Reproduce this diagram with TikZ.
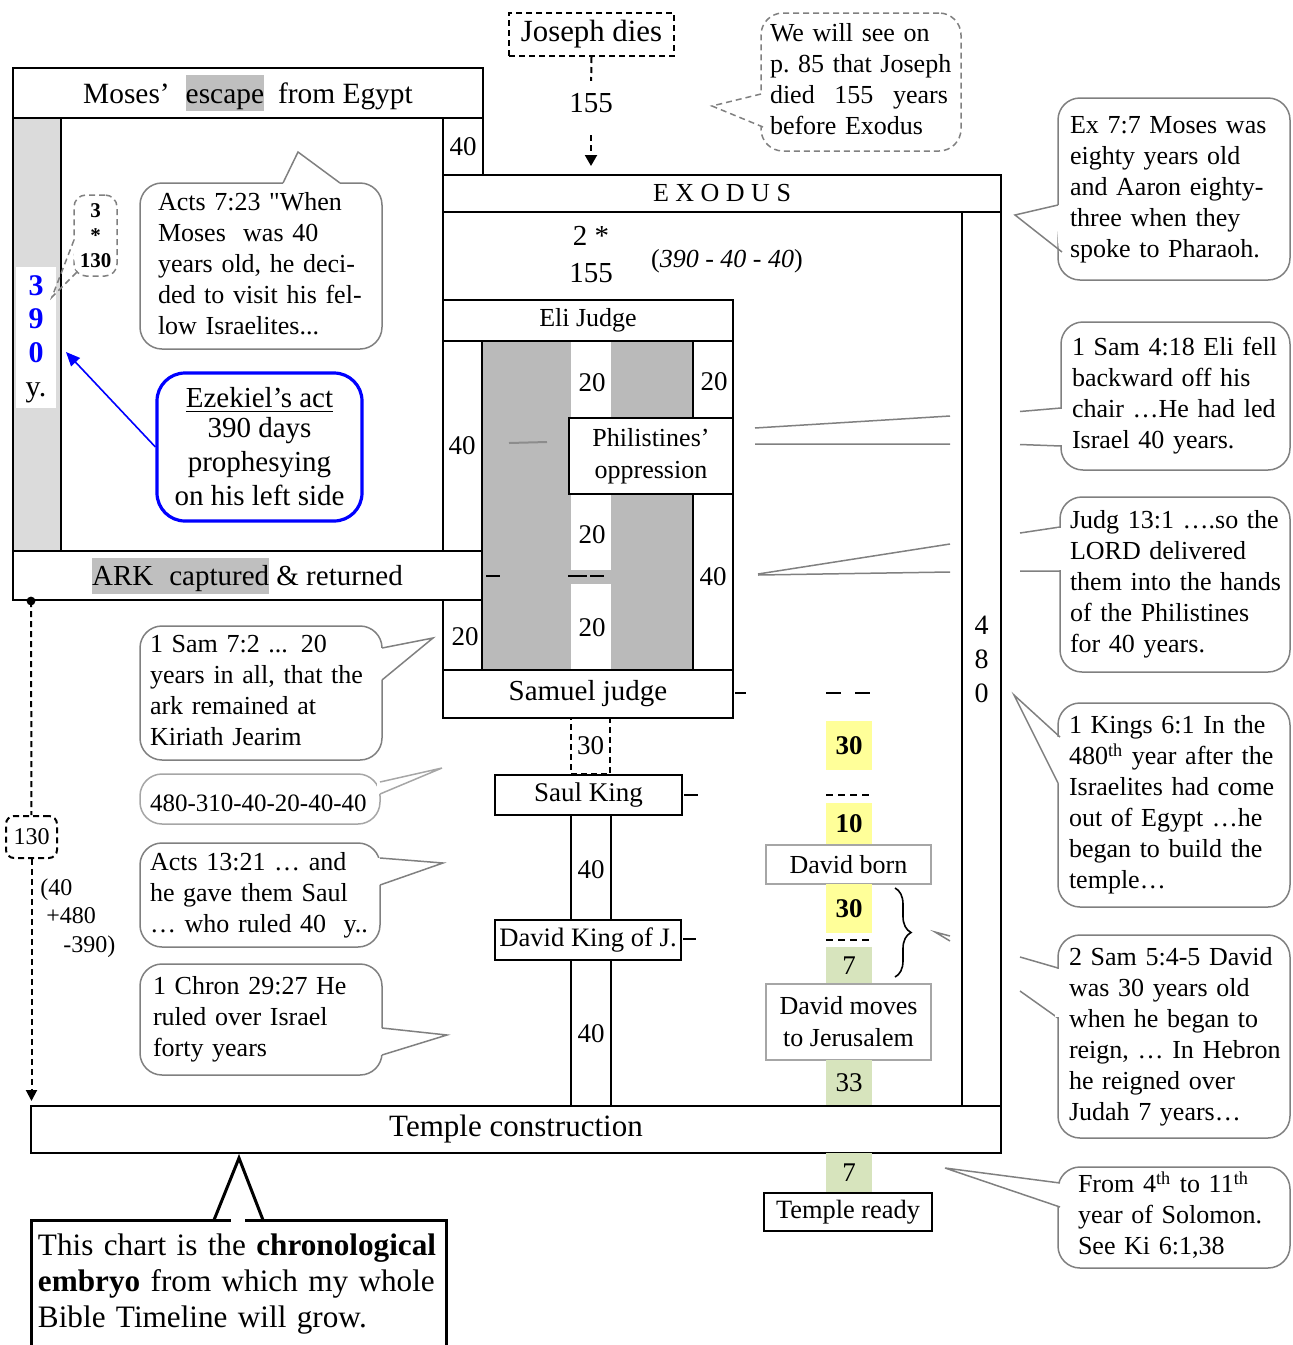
\documentclass[tikz,border=0pt]{standalone}
\usepackage{fontspec}
\setmainfont{Liberation Serif}
\usetikzlibrary{calc,arrows.meta,decorations.pathreplacing}
\definecolor{yel}{RGB}{255,255,153}
\definecolor{grn}{RGB}{215,228,189}
\newcommand\fsz[2]{\fontsize{#1}{#2}\selectfont}
\newcommand\hlt[1]{{\setlength{\fboxsep}{0pt}\colorbox{black!25}{\rule[-4pt]{0pt}{18pt}#1}}}
\newcommand\bxn[7]{%
  \pgfmathsetmacro\bxW{(#4-#2)*0.5}%
  \pgfmathsetmacro\bxH{(#5-#3)*0.5}%
  \node[inner sep=0pt,#6,minimum width=\bxW pt,minimum height=\bxH pt] (#1) at ({(#2+#4)/2},{(#3+#5)/2}) {#7};}
\newcommand\cbn[8]{%
  \pgfmathsetmacro\bxW{(#4-#2)*0.5}%
  \pgfmathsetmacro\bxH{(#5-#3)*0.5}%
  \pgfmathsetmacro\bxS{(#6-#2)*0.5}%
  \pgfmathsetmacro\bxT{(#4-#2)*0.5-(#6-#2)}%
  \node[callout,#7,minimum width=\bxW pt,minimum height=\bxH pt,inner xsep=\bxS pt,inner ysep=0pt,text width=\bxT pt] (#1) at ({(#2+#4)/2},{(#3+#5)/2}) {\begin{tabular}{@{}l@{}}#8\end{tabular}};}
\newcommand\ptrn[5][]{%
  \fill[white] ($(#2)-(#5)$) -- ($(#4)-(#5)$) -- ($(#4)+(#5)$) -- ($(#2)+(#5)$) -- cycle;
  \draw[cline,#1] (#2) -- (#3) -- (#4);}
\begin{document}
\begin{tikzpicture}[x=0.5pt,y=-0.5pt,
  frame/.style={draw=black,line width=1pt,fill=white},
  thin/.style={line width=1pt},
  num/.style={inner sep=0pt,font=\fsz{13.5}{16}},
  callout/.style={draw=black!50,line width=0.75pt,rounded corners=11pt,fill=white,font=\fsz{13}{15.5}},
  cline/.style={draw=black!50,line width=0.75pt},
  dsh/.style={dash pattern=on 3pt off 2pt},
  tick/.style={line width=1.3pt},
  graybox/.style={draw=black!35,line width=1pt,fill=white,font=\fsz{13}{16}}]
\useasboundingbox (0,0) rectangle (1292,1345);

% ---------- Moses box
\bxn{mosestop}{13}{68}{483}{118}{frame,font=\fsz{14.7}{18}}{Moses’\hspace{8pt}\hlt{escape}\hspace{7pt}from Egypt}
\draw[thin,fill=black!14] (13,118) rectangle (61,551);
\fill[white] (16,267) rectangle (56,408);
\node[inner sep=0pt,align=center,font=\fsz{15}{16.8}] (n390) at (36,339) {\textcolor{blue}{\bfseries 3}\\\textcolor{blue}{\bfseries 9}\\\textcolor{blue}{\bfseries 0}\\y.};
\bxn{m40}{443}{118}{483}{175}{frame,font=\fsz{13.5}{16}}{40}

% ---------- Exodus, column 480, temple band
\bxn{exodus}{443}{175}{1001}{212}{frame,font=\fsz{13}{15}}{\raisebox{-1.5pt}{E X O D U S}}
\draw[thin] (443,212) -- (443,300);

% ---------- pointers that pass behind the 480 column
\draw[cline] (755,428) -- (950,416) (1020,411.5) -- (1061,408);
\draw[cline] (755,444) -- (950,444) (1020,444.5) -- (1061,446);
\draw[cline] (758,574) -- (950,544) (1020,533) -- (1060,527);
\draw[cline] (758,575) -- (950,572) (1020,571) -- (1060,571);
\draw[cline] (950,936) -- (935,932) -- (950,941);
\draw[cline] (1020,957) -- (1058,968) (1020,991) -- (1058,1018);

\bxn{col480}{962}{212}{1001}{1106}{frame,align=center,font=\fsz{14}{17}}{4\\8\\0}

% ---------- Eli region
\fill[black!27] (482,341) rectangle (693,670);
\fill[white] (571,341) rectangle (611,570);
\fill[white] (571,584) rectangle (611,670);
\draw[thin] (443,341) -- (443,670) (482,341) -- (482,670) (693,341) -- (693,670) (733,341) -- (733,670);
\bxn{eli}{443}{300}{733}{341}{frame,font=\fsz{13}{15}}{Eli Judge}
\bxn{samuel}{443}{670}{733}{718}{frame,font=\fsz{14.5}{17}}{Samuel judge}
\bxn{phil}{569}{418}{733}{494}{frame,align=center,font=\fsz{13}{16}}{Philistines’\\oppression}
\bxn{ark}{13}{551}{482}{600}{frame,font=\fsz{14.5}{18}}{\hlt{ARK\hspace{8pt}captured} \& returned}
\node[num] (l40a) at (462,446) {40};
\node[num] (l20a) at (465,637) {20};
\node[num] (l20b) at (592,383) {20};
\node[num] (l20c) at (592,535) {20};
\node[num] (l20d) at (592,628) {20};
\node[num] (l20e) at (714,382) {20};
\node[num] (l40b) at (713,577) {40};
\draw[tick] (486,576) -- (500,576) (568,576) -- (587,576) (590,576) -- (604,576);
\draw[tick] (735,693) -- (746,693) (826,693) -- (841,693) (855,693) -- (870,693);
\draw[black!45,line width=1pt] (509,443) -- (547,442);

% ---------- Joseph
\bxn{joseph}{509}{13}{674}{56}{frame,dsh,font=\fsz{15.4}{18}}{\raisebox{-1.5pt}{Joseph dies}}
\node[inner sep=0pt,font=\fsz{14.5}{17}] (t155) at (591,103) {155};
\draw[thin,dsh,shorten >=6pt] (joseph.south) -- (t155.north);
\draw[thin,dsh,shorten <=11pt,shorten >=4pt,-{Triangle[length=5.5pt,width=6pt]}] (t155.south) -- (exodus.north -| t155.south);
\node[inner sep=0pt,font=\fsz{14.5}{17}] (two) at (591,236) {2 *};
\node[inner sep=0pt,font=\fsz{14.5}{17}] (t155b) at (591,273) {155};
\node[inner sep=0pt,font=\fsz{13}{15}] (calc390) at (727,261) {(\textit{390 - 40 - 40})};

% ---------- Saul / David column
\bxn{d30}{571}{718}{610}{774}{draw,line width=0.8pt,dsh,font=\fsz{13.5}{16}}{30}
\bxn{saul}{495}{775}{682}{815}{frame,font=\fsz{13.5}{16}}{Saul King}
\draw[thin] (571,815) -- (571,920) (611,815) -- (611,920);
\node[num] (l40c) at (591,870) {40};
\bxn{davidk}{495}{920}{681}{960}{frame,font=\fsz{13.3}{16}}{David King of J.}
\draw[thin] (571,960) -- (571,1106) (611,960) -- (611,1106);
\node[num] (l40d) at (591,1034) {40};
\draw[tick] (684,795) -- (698,795) (683,939) -- (696,939);

% ---------- David timeline
\bxn{y30a}{826}{721}{872}{770}{fill=yel,font=\fsz{13.5}{16}\bfseries}{30}
\draw[thin,dash pattern=on 3.5pt off 2.5pt] (826,795) -- (872,795);
\bxn{y10}{826}{803}{872}{845}{fill=yel,font=\fsz{13.5}{16}\bfseries}{10}
\bxn{dborn}{766}{845}{931}{884}{graybox}{David born}
\bxn{y30b}{826}{884}{872}{933}{fill=yel,font=\fsz{13.5}{16}\bfseries}{30}
\draw[thin,dash pattern=on 3.5pt off 2.5pt] (826,940) -- (872,940);
\bxn{g7a}{826}{947}{872}{984}{fill=grn,font=\fsz{13.5}{16}}{7}
\bxn{dmoves}{766}{984}{931}{1060}{graybox,align=center}{David moves\\to Jerusalem}
\bxn{g33}{826}{1060}{872}{1106}{fill=grn,font=\fsz{13.5}{16}}{33}
\draw[decorate,decoration={brace,amplitude=8pt},line width=0.8pt] (895,888) -- (895,977);

\bxn{temple}{31}{1106}{1001}{1153}{frame,font=\fsz{15.5}{18}}{Temple construction}
\bxn{g7b}{826}{1153}{872}{1193}{fill=grn,font=\fsz{13.5}{16}}{7}
\bxn{tready}{764}{1193}{932}{1231}{frame,font=\fsz{13.2}{16}}{Temple ready}

% ---------- Inner Moses callouts
\cbn{acts723}{140}{183}{382}{349}{158}{}{Acts 7:23 \textquotedbl When\\Moses~ was 40\\years old, he deci-\\ded to visit his fel-\\low Israelites...}
\ptrn{283,183}{298,152}{340,183}{0,3}
\bxn{box3130}{74}{195}{117}{276}{draw=black!50,line width=0.75pt,dsh,rounded corners=6pt,fill=white,align=center,font=\fsz{10.5}{12.5}\bfseries}{3\\*\\130}
\ptrn[dsh]{74,240}{52,297}{79,270}{3,0}
\bxn{ezek}{157}{373}{362}{521}{draw=blue,line width=1.6pt,rounded corners=14pt,fill=white,align=center,font=\fsz{14.5}{17}}{\raisebox{-2pt}{\underline{Ezekiel’s act}}\\390 days\\prophesying\\on his left side}
\coordinate (ezektip) at (66,352);
\draw[blue,line width=0.8pt,-{Triangle[length=7pt,width=6pt]}] (ezek.west) -- (ezektip);

% ---------- left timeline
\coordinate (arkdot) at (31,601);
\fill (arkdot) circle (2.2pt);
\bxn{box130}{6}{816}{57}{858}{draw,thin,dsh,rounded corners=4pt,fill=white,font=\fsz{12}{14}}{130}
\draw[thin,dsh] (arkdot) -- (box130.north);
\draw[thin,dsh,shorten >=2pt,-{Triangle[length=5.5pt,width=5.5pt]}] (box130.south) -- (box130.south |- temple.north);
\node[anchor=north west,align=left,inner sep=0pt,font=\fsz{12}{14.25}] (calc130) at (40,878) {(40\\\hspace*{3pt}+480\\\hspace*{11.5pt}-390)};

% ---------- left callouts
\cbn{sam72}{140}{626}{382}{760}{150}{}{1 Sam 7:2 ... 20\\years in all, that the\\ark remained at\\Kiriath Jearim}
\ptrn{382,648}{433,638}{382,680}{-3,0}
\cbn{calc480}{140}{774}{380}{824}{150}{draw=black!35,font=\fsz{12.5}{15}}{\raisebox{-3pt}{480-310-40-20-40-40}}
\ptrn[draw=black!35]{380,782}{442,768}{380,794}{-3,0}
\cbn{acts1321}{140}{843}{380}{947}{150}{}{Acts 13:21 … and\\he gave them Saul\\… who ruled 40~ y..}
\ptrn{380,858}{443,863}{380,885}{-3,0}
\cbn{chron}{140}{964}{382}{1075}{153}{}{1 Chron 29:27 He\\ruled over Israel\\forty years}
\ptrn{382,1028}{447,1035}{382,1055}{-3,0}

% ---------- top callout
\cbn{seecall}{761}{13}{961}{151}{770}{dsh}{We will see on\\p.\ 85 that Joseph\\\hbox to 89pt{died\hfill 155\hfill years}\\before Exodus}
\ptrn[dsh]{761,94}{712,106}{763,127}{4,0}

% ---------- right callouts
\cbn{ex77}{1058}{98}{1290}{280}{1070}{}{Ex 7:7 Moses was\\eighty years old\\and Aaron eighty-\\three when they\\spoke to Pharaoh.}
\ptrn{1058,205}{1015,215}{1062,252}{3,0}
\cbn{sam418}{1061}{322}{1290}{470}{1072}{}{1 Sam 4:18 Eli fell\\backward off his\\chair …He had led\\Israel 40 years.}
\fill[white] (1058,409) rectangle (1064,445);
\cbn{judg}{1060}{497}{1290}{672}{1070}{}{Judg 13:1 ….so the\\LORD delivered\\them into the hands\\of the Philistines\\for 40 years.}
\fill[white] (1057,528) rectangle (1063,570);
\cbn{kings}{1058}{703}{1290}{907}{1069}{}{1 Kings 6:1 In the\\480\textsuperscript{th} year after the\\Israelites had come\\out of Egypt …he\\began to build the\\temple…}
\ptrn{1060,737}{1014,695}{1058,783}{3,0}
\cbn{sam545}{1058}{935}{1290}{1138}{1069}{}{2 Sam 5:4-5 David\\was 30 years old\\when he began to\\reign, … In Hebron\\he reigned over\\Judah 7 years…}
\fill[white] (1055,969) rectangle (1061,1017);
\cbn{solomon}{1058}{1167}{1290}{1268}{1078}{}{From 4\textsuperscript{th} to 11\textsuperscript{th}\\year of Solomon.\\See Ki 6:1,38}
\ptrn{1060,1183}{945,1168}{1060,1207}{3,0}

% ---------- bottom callout
\cbn{embryo}{31}{1220}{446}{1348}{38}{draw=black,line width=1.5pt,sharp corners,font=\fsz{15.6}{18}}{This chart is the \textbf{chronological}\\\textbf{embryo} from which my whole\\Bible Timeline will grow.}
\fill[white] (231,1216) rectangle (245,1224);
\draw[line width=1.5pt] (214,1220) -- (239,1158) -- (263,1220);
\end{tikzpicture}
\end{document}
